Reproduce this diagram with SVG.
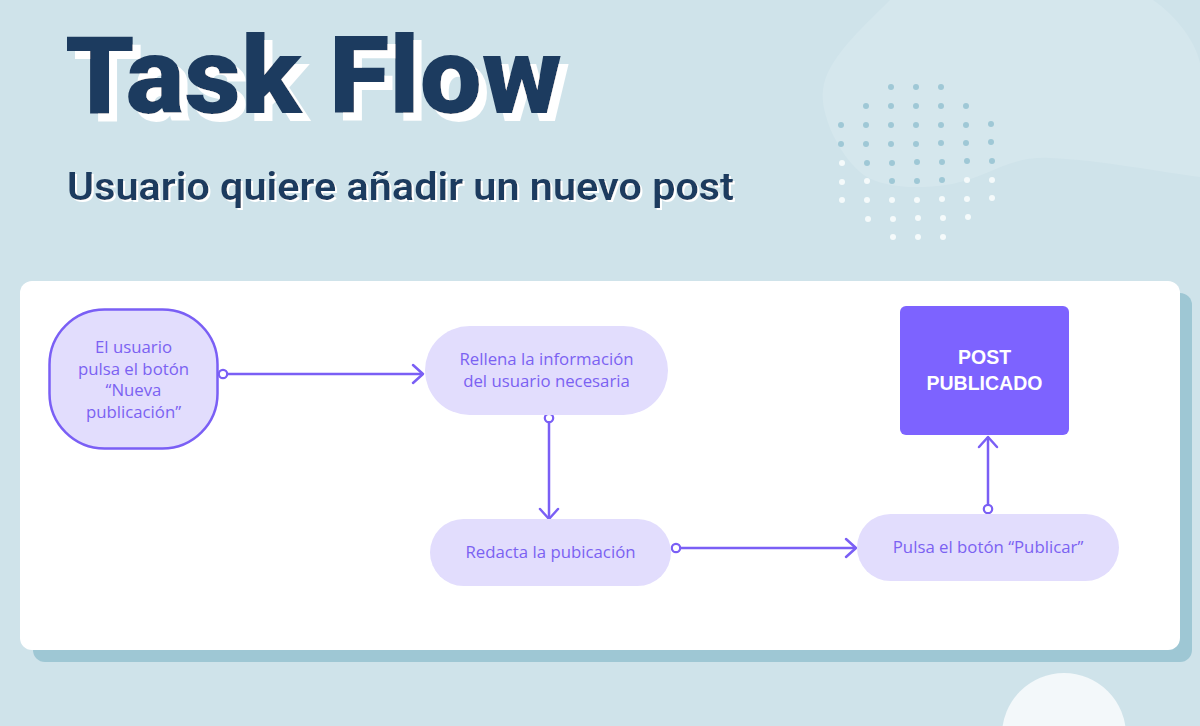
<svg xmlns="http://www.w3.org/2000/svg" width="1200" height="726" viewBox="0 0 1200 726">
  <style>
    .bg { fill: #cfe3ea; }
    .blob { fill: #d5e7ed; }
    .dotb { fill: #9fc8d6; }
    .dotw { fill: #f5fafb; }
    .title { font-family: Roboto, "Liberation Sans", sans-serif; font-weight: 900; font-size: 108px; }
    .sub { font-family: Roboto, "Liberation Sans", sans-serif; font-weight: 600; font-size: 38px; }
    .ink { fill: #1f3b5e; }
    .node { fill: #e2ddfd; }
    .nodeStroke { fill: #e2ddfd; stroke: #7a5ff5; stroke-width: 2.5; }
    .final { fill: #7d63ff; }
    .lbl { font-family: "Open Sans", "Liberation Sans", sans-serif; font-size: 16.8px; fill: #7b62f2; text-anchor: middle; }
    .lblW { font-family: "Liberation Sans", Arial, sans-serif; font-weight: 700; font-size: 19.5px; fill: #ffffff; text-anchor: middle; }
    .edge { fill: none; stroke: #7a5ff5; stroke-width: 2.5; marker-start: url(#dot); marker-end: url(#arrow); }
  </style>
  <defs>
    <filter id="shadowBig" x="-5%" y="-20%" width="115%" height="150%">
      <feFlood flood-color="#ffffff" result="f"/>
      <feComposite in="f" in2="SourceAlpha" operator="in" result="s"/>
      <feOffset in="s" dx="8" dy="8" result="o"/>
      <feMerge><feMergeNode in="o"/><feMergeNode in="SourceGraphic"/></feMerge>
    </filter>
    <filter id="shadowSmall" x="-5%" y="-20%" width="110%" height="150%">
      <feFlood flood-color="#ffffff" result="f"/>
      <feComposite in="f" in2="SourceAlpha" operator="in" result="s"/>
      <feOffset in="s" dx="2" dy="2" result="o"/>
      <feMerge><feMergeNode in="o"/><feMergeNode in="SourceGraphic"/></feMerge>
    </filter>
    <marker id="arrow" markerUnits="userSpaceOnUse" markerWidth="24" markerHeight="24" viewBox="-12 -12 24 24" refX="0" refY="0" orient="auto">
      <path d="M-10,-9 L0,0 L-10,9" fill="none" stroke="#7a5ff5" stroke-width="2.5" stroke-linecap="round" stroke-linejoin="round"/>
    </marker>
    <marker id="dot" markerUnits="userSpaceOnUse" markerWidth="14" markerHeight="14" viewBox="-7 -7 14 14" refX="0" refY="0" orient="auto">
      <circle cx="0" cy="0" r="4.2" fill="#ffffff" stroke="#7a5ff5" stroke-width="2.2"/>
    </marker>
  </defs>

  <!-- background -->
  <rect class="bg" x="0" y="0" width="1200" height="726"/>
  <path class="blob" d="M890,0 L1153,0 C1175,15 1195,40 1200,63 L1200,177 C1160,172 1100,160 1050,158 C1010,156 990,175 960,182 C930,190 880,190 860,172 C835,150 820,110 823,90 C826,60 860,30 890,0 Z"/>
  <circle cx="1064" cy="735" r="62" fill="#f3f8fa"/>

  <!-- dots -->
  <g id="dots">
    <g class="dotb">
      <circle cx="891" cy="87" r="3"/><circle cx="916" cy="87" r="3"/><circle cx="941" cy="87" r="3"/>
      <circle cx="866" cy="106" r="3"/><circle cx="891" cy="106" r="3"/><circle cx="916" cy="106" r="3"/><circle cx="941" cy="106" r="3"/><circle cx="966" cy="106" r="3"/>
      <circle cx="841" cy="125" r="3"/><circle cx="866" cy="125" r="3"/><circle cx="891" cy="125" r="3"/><circle cx="916" cy="125" r="3"/><circle cx="941" cy="125" r="3"/><circle cx="966" cy="125" r="3"/><circle cx="991" cy="124" r="3"/>
      <circle cx="841" cy="144" r="3"/><circle cx="866" cy="144" r="3"/><circle cx="891" cy="144" r="3"/><circle cx="916" cy="144" r="3"/><circle cx="941" cy="143" r="3"/><circle cx="966" cy="143" r="3"/><circle cx="991" cy="142" r="3"/>
      <circle cx="867" cy="163" r="3"/><circle cx="892" cy="163" r="3"/><circle cx="917" cy="162" r="3"/><circle cx="942" cy="162" r="3"/><circle cx="967" cy="161" r="3"/><circle cx="992" cy="161" r="3"/>
      <circle cx="892" cy="181" r="3"/><circle cx="917" cy="181" r="3"/><circle cx="942" cy="180" r="3"/>
    </g>
    <g class="dotw">
      <circle cx="842" cy="163" r="3"/>
      <circle cx="842" cy="182" r="3"/><circle cx="867" cy="181" r="3"/><circle cx="967" cy="180" r="3"/><circle cx="992" cy="180" r="3"/>
      <circle cx="842" cy="200" r="3"/><circle cx="867" cy="200" r="3"/><circle cx="892" cy="200" r="3"/><circle cx="917" cy="200" r="3"/><circle cx="942" cy="199" r="3"/><circle cx="967" cy="199" r="3"/><circle cx="992" cy="198" r="3"/>
      <circle cx="868" cy="219" r="3"/><circle cx="893" cy="219" r="3"/><circle cx="918" cy="218" r="3"/><circle cx="943" cy="218" r="3"/><circle cx="968" cy="217" r="3"/>
      <circle cx="893" cy="237" r="3"/><circle cx="918" cy="237" r="3"/><circle cx="943" cy="237" r="3"/>
    </g>
  </g>

  <!-- titles -->
  <g id="title" filter="url(#shadowBig)">
    <text class="title ink" x="65" y="113" textLength="497" lengthAdjust="spacingAndGlyphs">Task Flow</text>
  </g>
  <g id="subtitle" filter="url(#shadowSmall)">
    <text class="sub ink" x="67" y="200" textLength="667" lengthAdjust="spacingAndGlyphs">Usuario quiere añadir un nuevo post</text>
  </g>

  <!-- card -->
  <rect x="33" y="293" width="1159" height="369" rx="12" fill="#9ec7d4"/>
  <rect x="20" y="281" width="1160" height="369" rx="12" fill="#ffffff"/>

  <!-- connectors -->
  <g id="connectors">
    <line class="edge" x1="223" y1="374" x2="423" y2="374"/>
    <line class="edge" x1="549" y1="418" x2="549" y2="519"/>
    <line class="edge" x1="676" y1="548" x2="856" y2="548"/>
    <line class="edge" x1="988" y1="509" x2="988" y2="437"/>
  </g>

  <!-- nodes -->
  <g id="node-start">
    <rect class="nodeStroke" x="49.5" y="309.5" width="168" height="139" rx="55"/>
    <text class="lbl" x="133.5" y="353">El usuario</text>
    <text class="lbl" x="133.5" y="374.5">pulsa el botón</text>
    <text class="lbl" x="133.5" y="396">“Nueva</text>
    <text class="lbl" x="133.5" y="418">publicación”</text>
  </g>
  <g id="node-rellena">
    <rect class="node" x="425" y="326" width="243" height="89" rx="44.5"/>
    <text class="lbl" x="546.5" y="365">Rellena la información</text>
    <text class="lbl" x="546.5" y="386.5">del usuario necesaria</text>
  </g>
  <g id="node-redacta">
    <rect class="node" x="430" y="519" width="241" height="67" rx="33.5"/>
    <text class="lbl" x="550.5" y="558">Redacta la pubicación</text>
  </g>
  <g id="node-pulsa">
    <rect class="node" x="857" y="514" width="262" height="67" rx="33.5"/>
    <text class="lbl" x="988" y="553">Pulsa el botón “Publicar”</text>
  </g>
  <g id="node-post">
    <rect class="final" x="900" y="306" width="169" height="129" rx="6"/>
    <text class="lblW" x="984.5" y="363.5">POST</text>
    <text class="lblW" x="984.5" y="390">PUBLICADO</text>
  </g>
</svg>
